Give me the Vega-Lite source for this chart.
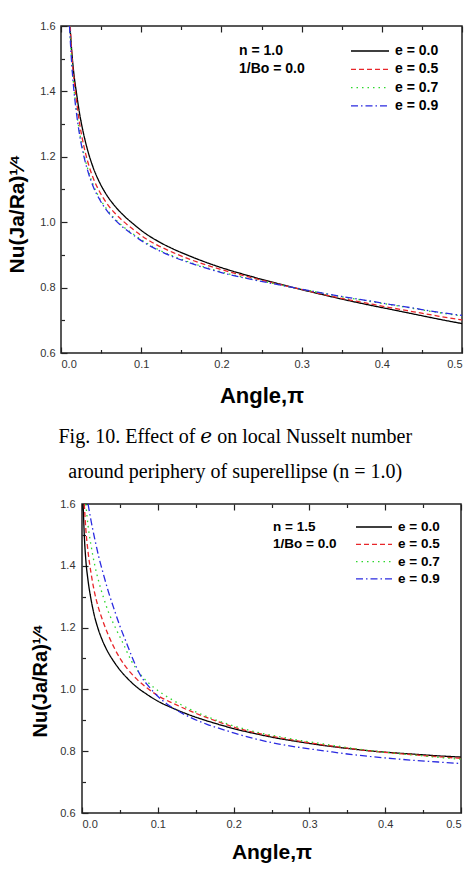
{
  "$schema": "https://vega.github.io/schema/vega-lite/v6.json",
  "background": "white",
  "padding": {"left": 5, "top": 19, "right": 0, "bottom": 0},
  "config": {
    "view": {"stroke": "#222", "strokeWidth": 1.5},
    "axis": {
      "domain": false, "grid": false,
      "tickColor": "#222", "tickWidth": 1.2,
      "labelFont": "Liberation Sans", "labelFontSize": 11, "labelColor": "#333",
      "titleFont": "Liberation Sans", "titleFontWeight": "bold", "titleColor": "#000"
    },
    "legend": {
      "titleFont": "Liberation Sans", "titleFontWeight": "bold", "titleColor": "#000",
      "labelFont": "Liberation Sans", "labelFontWeight": "bold", "labelColor": "#000",
      "titleOrient": "left", "titleAnchor": "start", "titleBaseline": "top",
      "symbolStrokeWidth": 1.3, "symbolSize": 144, "padding": 0
    }
  },
  "resolve": {
    "scale": {"color": "independent", "strokeDash": "independent"},
    "legend": {"color": "independent", "strokeDash": "independent"}
  },
  "datasets": {
    "n10": [
      {"e": "e = 0.0", "angle": 0.0112, "nu": 1.600}, {"e": "e = 0.0", "angle": 0.0135, "nu": 1.520},
      {"e": "e = 0.0", "angle": 0.016, "nu": 1.455}, {"e": "e = 0.0", "angle": 0.019, "nu": 1.400},
      {"e": "e = 0.0", "angle": 0.023, "nu": 1.335}, {"e": "e = 0.0", "angle": 0.028, "nu": 1.272},
      {"e": "e = 0.0", "angle": 0.033, "nu": 1.222}, {"e": "e = 0.0", "angle": 0.040, "nu": 1.168},
      {"e": "e = 0.0", "angle": 0.048, "nu": 1.122}, {"e": "e = 0.0", "angle": 0.057, "nu": 1.083},
      {"e": "e = 0.0", "angle": 0.067, "nu": 1.050}, {"e": "e = 0.0", "angle": 0.078, "nu": 1.021},
      {"e": "e = 0.0", "angle": 0.090, "nu": 0.995}, {"e": "e = 0.0", "angle": 0.105, "nu": 0.966},
      {"e": "e = 0.0", "angle": 0.120, "nu": 0.943}, {"e": "e = 0.0", "angle": 0.140, "nu": 0.918},
      {"e": "e = 0.0", "angle": 0.160, "nu": 0.897}, {"e": "e = 0.0", "angle": 0.180, "nu": 0.878},
      {"e": "e = 0.0", "angle": 0.200, "nu": 0.861}, {"e": "e = 0.0", "angle": 0.230, "nu": 0.839},
      {"e": "e = 0.0", "angle": 0.260, "nu": 0.819}, {"e": "e = 0.0", "angle": 0.290, "nu": 0.800},
      {"e": "e = 0.0", "angle": 0.320, "nu": 0.782}, {"e": "e = 0.0", "angle": 0.350, "nu": 0.765},
      {"e": "e = 0.0", "angle": 0.380, "nu": 0.749}, {"e": "e = 0.0", "angle": 0.410, "nu": 0.734},
      {"e": "e = 0.0", "angle": 0.440, "nu": 0.719}, {"e": "e = 0.0", "angle": 0.470, "nu": 0.704},
      {"e": "e = 0.0", "angle": 0.500, "nu": 0.690},

      {"e": "e = 0.5", "angle": 0.0115, "nu": 1.600}, {"e": "e = 0.5", "angle": 0.0135, "nu": 1.510},
      {"e": "e = 0.5", "angle": 0.016, "nu": 1.440}, {"e": "e = 0.5", "angle": 0.019, "nu": 1.378},
      {"e": "e = 0.5", "angle": 0.023, "nu": 1.305}, {"e": "e = 0.5", "angle": 0.028, "nu": 1.238},
      {"e": "e = 0.5", "angle": 0.033, "nu": 1.188}, {"e": "e = 0.5", "angle": 0.040, "nu": 1.136},
      {"e": "e = 0.5", "angle": 0.048, "nu": 1.094}, {"e": "e = 0.5", "angle": 0.057, "nu": 1.058},
      {"e": "e = 0.5", "angle": 0.067, "nu": 1.028}, {"e": "e = 0.5", "angle": 0.078, "nu": 1.002},
      {"e": "e = 0.5", "angle": 0.090, "nu": 0.978}, {"e": "e = 0.5", "angle": 0.105, "nu": 0.951},
      {"e": "e = 0.5", "angle": 0.120, "nu": 0.930}, {"e": "e = 0.5", "angle": 0.140, "nu": 0.907},
      {"e": "e = 0.5", "angle": 0.160, "nu": 0.887}, {"e": "e = 0.5", "angle": 0.180, "nu": 0.870},
      {"e": "e = 0.5", "angle": 0.200, "nu": 0.855}, {"e": "e = 0.5", "angle": 0.230, "nu": 0.835},
      {"e": "e = 0.5", "angle": 0.260, "nu": 0.817}, {"e": "e = 0.5", "angle": 0.290, "nu": 0.800},
      {"e": "e = 0.5", "angle": 0.320, "nu": 0.783}, {"e": "e = 0.5", "angle": 0.350, "nu": 0.767},
      {"e": "e = 0.5", "angle": 0.380, "nu": 0.753}, {"e": "e = 0.5", "angle": 0.410, "nu": 0.739},
      {"e": "e = 0.5", "angle": 0.440, "nu": 0.726}, {"e": "e = 0.5", "angle": 0.470, "nu": 0.713},
      {"e": "e = 0.5", "angle": 0.500, "nu": 0.701},

      {"e": "e = 0.7", "angle": 0.0108, "nu": 1.600}, {"e": "e = 0.7", "angle": 0.0135, "nu": 1.488},
      {"e": "e = 0.7", "angle": 0.016, "nu": 1.413}, {"e": "e = 0.7", "angle": 0.019, "nu": 1.347},
      {"e": "e = 0.7", "angle": 0.023, "nu": 1.277}, {"e": "e = 0.7", "angle": 0.028, "nu": 1.214},
      {"e": "e = 0.7", "angle": 0.033, "nu": 1.166}, {"e": "e = 0.7", "angle": 0.040, "nu": 1.115},
      {"e": "e = 0.7", "angle": 0.048, "nu": 1.074}, {"e": "e = 0.7", "angle": 0.057, "nu": 1.040},
      {"e": "e = 0.7", "angle": 0.067, "nu": 1.011}, {"e": "e = 0.7", "angle": 0.078, "nu": 0.986},
      {"e": "e = 0.7", "angle": 0.090, "nu": 0.964}, {"e": "e = 0.7", "angle": 0.105, "nu": 0.939},
      {"e": "e = 0.7", "angle": 0.120, "nu": 0.918}, {"e": "e = 0.7", "angle": 0.140, "nu": 0.896},
      {"e": "e = 0.7", "angle": 0.160, "nu": 0.878}, {"e": "e = 0.7", "angle": 0.180, "nu": 0.862},
      {"e": "e = 0.7", "angle": 0.200, "nu": 0.848}, {"e": "e = 0.7", "angle": 0.230, "nu": 0.830},
      {"e": "e = 0.7", "angle": 0.260, "nu": 0.815}, {"e": "e = 0.7", "angle": 0.290, "nu": 0.800},
      {"e": "e = 0.7", "angle": 0.320, "nu": 0.786}, {"e": "e = 0.7", "angle": 0.350, "nu": 0.772},
      {"e": "e = 0.7", "angle": 0.380, "nu": 0.760}, {"e": "e = 0.7", "angle": 0.410, "nu": 0.748},
      {"e": "e = 0.7", "angle": 0.440, "nu": 0.736}, {"e": "e = 0.7", "angle": 0.470, "nu": 0.724},
      {"e": "e = 0.7", "angle": 0.500, "nu": 0.713},

      {"e": "e = 0.9", "angle": 0.0106, "nu": 1.600}, {"e": "e = 0.9", "angle": 0.0135, "nu": 1.480},
      {"e": "e = 0.9", "angle": 0.016, "nu": 1.405}, {"e": "e = 0.9", "angle": 0.019, "nu": 1.340},
      {"e": "e = 0.9", "angle": 0.023, "nu": 1.270}, {"e": "e = 0.9", "angle": 0.028, "nu": 1.207},
      {"e": "e = 0.9", "angle": 0.033, "nu": 1.160}, {"e": "e = 0.9", "angle": 0.040, "nu": 1.110},
      {"e": "e = 0.9", "angle": 0.048, "nu": 1.070}, {"e": "e = 0.9", "angle": 0.057, "nu": 1.036},
      {"e": "e = 0.9", "angle": 0.067, "nu": 1.008}, {"e": "e = 0.9", "angle": 0.078, "nu": 0.983},
      {"e": "e = 0.9", "angle": 0.090, "nu": 0.961}, {"e": "e = 0.9", "angle": 0.105, "nu": 0.936},
      {"e": "e = 0.9", "angle": 0.120, "nu": 0.916}, {"e": "e = 0.9", "angle": 0.140, "nu": 0.894},
      {"e": "e = 0.9", "angle": 0.160, "nu": 0.876}, {"e": "e = 0.9", "angle": 0.180, "nu": 0.860},
      {"e": "e = 0.9", "angle": 0.200, "nu": 0.846}, {"e": "e = 0.9", "angle": 0.230, "nu": 0.829},
      {"e": "e = 0.9", "angle": 0.260, "nu": 0.814}, {"e": "e = 0.9", "angle": 0.290, "nu": 0.800},
      {"e": "e = 0.9", "angle": 0.320, "nu": 0.786}, {"e": "e = 0.9", "angle": 0.350, "nu": 0.773},
      {"e": "e = 0.9", "angle": 0.380, "nu": 0.761}, {"e": "e = 0.9", "angle": 0.410, "nu": 0.749},
      {"e": "e = 0.9", "angle": 0.440, "nu": 0.737}, {"e": "e = 0.9", "angle": 0.470, "nu": 0.725},
      {"e": "e = 0.9", "angle": 0.500, "nu": 0.715}
    ],
    "n15": [
      {"e": "e = 0.0", "angle": 0.0015, "nu": 1.600}, {"e": "e = 0.0", "angle": 0.003, "nu": 1.500},
      {"e": "e = 0.0", "angle": 0.005, "nu": 1.420}, {"e": "e = 0.0", "angle": 0.008, "nu": 1.352},
      {"e": "e = 0.0", "angle": 0.012, "nu": 1.290}, {"e": "e = 0.0", "angle": 0.016, "nu": 1.242},
      {"e": "e = 0.0", "angle": 0.021, "nu": 1.198}, {"e": "e = 0.0", "angle": 0.027, "nu": 1.158},
      {"e": "e = 0.0", "angle": 0.034, "nu": 1.122}, {"e": "e = 0.0", "angle": 0.042, "nu": 1.090},
      {"e": "e = 0.0", "angle": 0.051, "nu": 1.060}, {"e": "e = 0.0", "angle": 0.061, "nu": 1.033},
      {"e": "e = 0.0", "angle": 0.072, "nu": 1.008}, {"e": "e = 0.0", "angle": 0.085, "nu": 0.985},
      {"e": "e = 0.0", "angle": 0.100, "nu": 0.962}, {"e": "e = 0.0", "angle": 0.120, "nu": 0.939},
      {"e": "e = 0.0", "angle": 0.140, "nu": 0.919}, {"e": "e = 0.0", "angle": 0.160, "nu": 0.902},
      {"e": "e = 0.0", "angle": 0.180, "nu": 0.887}, {"e": "e = 0.0", "angle": 0.200, "nu": 0.873},
      {"e": "e = 0.0", "angle": 0.230, "nu": 0.856}, {"e": "e = 0.0", "angle": 0.260, "nu": 0.841},
      {"e": "e = 0.0", "angle": 0.290, "nu": 0.829}, {"e": "e = 0.0", "angle": 0.320, "nu": 0.818},
      {"e": "e = 0.0", "angle": 0.350, "nu": 0.809}, {"e": "e = 0.0", "angle": 0.380, "nu": 0.801},
      {"e": "e = 0.0", "angle": 0.410, "nu": 0.795}, {"e": "e = 0.0", "angle": 0.440, "nu": 0.790},
      {"e": "e = 0.0", "angle": 0.470, "nu": 0.785}, {"e": "e = 0.0", "angle": 0.500, "nu": 0.781},

      {"e": "e = 0.5", "angle": 0.003, "nu": 1.600}, {"e": "e = 0.5", "angle": 0.005, "nu": 1.520},
      {"e": "e = 0.5", "angle": 0.008, "nu": 1.445}, {"e": "e = 0.5", "angle": 0.012, "nu": 1.375},
      {"e": "e = 0.5", "angle": 0.016, "nu": 1.320}, {"e": "e = 0.5", "angle": 0.021, "nu": 1.270},
      {"e": "e = 0.5", "angle": 0.027, "nu": 1.225}, {"e": "e = 0.5", "angle": 0.034, "nu": 1.180},
      {"e": "e = 0.5", "angle": 0.042, "nu": 1.137}, {"e": "e = 0.5", "angle": 0.051, "nu": 1.097},
      {"e": "e = 0.5", "angle": 0.061, "nu": 1.063}, {"e": "e = 0.5", "angle": 0.072, "nu": 1.034},
      {"e": "e = 0.5", "angle": 0.085, "nu": 1.006}, {"e": "e = 0.5", "angle": 0.100, "nu": 0.980},
      {"e": "e = 0.5", "angle": 0.120, "nu": 0.955}, {"e": "e = 0.5", "angle": 0.140, "nu": 0.933},
      {"e": "e = 0.5", "angle": 0.160, "nu": 0.913}, {"e": "e = 0.5", "angle": 0.180, "nu": 0.895},
      {"e": "e = 0.5", "angle": 0.200, "nu": 0.878}, {"e": "e = 0.5", "angle": 0.230, "nu": 0.859},
      {"e": "e = 0.5", "angle": 0.260, "nu": 0.844}, {"e": "e = 0.5", "angle": 0.290, "nu": 0.831},
      {"e": "e = 0.5", "angle": 0.320, "nu": 0.820}, {"e": "e = 0.5", "angle": 0.350, "nu": 0.810},
      {"e": "e = 0.5", "angle": 0.380, "nu": 0.801}, {"e": "e = 0.5", "angle": 0.410, "nu": 0.794},
      {"e": "e = 0.5", "angle": 0.440, "nu": 0.788}, {"e": "e = 0.5", "angle": 0.470, "nu": 0.782},
      {"e": "e = 0.5", "angle": 0.500, "nu": 0.777},

      {"e": "e = 0.7", "angle": 0.005, "nu": 1.600}, {"e": "e = 0.7", "angle": 0.008, "nu": 1.530},
      {"e": "e = 0.7", "angle": 0.012, "nu": 1.465}, {"e": "e = 0.7", "angle": 0.017, "nu": 1.400},
      {"e": "e = 0.7", "angle": 0.022, "nu": 1.350}, {"e": "e = 0.7", "angle": 0.028, "nu": 1.300},
      {"e": "e = 0.7", "angle": 0.035, "nu": 1.250}, {"e": "e = 0.7", "angle": 0.044, "nu": 1.200},
      {"e": "e = 0.7", "angle": 0.054, "nu": 1.150}, {"e": "e = 0.7", "angle": 0.065, "nu": 1.093},
      {"e": "e = 0.7", "angle": 0.078, "nu": 1.046}, {"e": "e = 0.7", "angle": 0.092, "nu": 1.012},
      {"e": "e = 0.7", "angle": 0.108, "nu": 0.983}, {"e": "e = 0.7", "angle": 0.125, "nu": 0.958},
      {"e": "e = 0.7", "angle": 0.145, "nu": 0.933}, {"e": "e = 0.7", "angle": 0.165, "nu": 0.912},
      {"e": "e = 0.7", "angle": 0.185, "nu": 0.894}, {"e": "e = 0.7", "angle": 0.200, "nu": 0.882},
      {"e": "e = 0.7", "angle": 0.230, "nu": 0.862}, {"e": "e = 0.7", "angle": 0.260, "nu": 0.847},
      {"e": "e = 0.7", "angle": 0.290, "nu": 0.834}, {"e": "e = 0.7", "angle": 0.320, "nu": 0.823},
      {"e": "e = 0.7", "angle": 0.350, "nu": 0.812}, {"e": "e = 0.7", "angle": 0.380, "nu": 0.802},
      {"e": "e = 0.7", "angle": 0.410, "nu": 0.794}, {"e": "e = 0.7", "angle": 0.440, "nu": 0.787},
      {"e": "e = 0.7", "angle": 0.470, "nu": 0.780}, {"e": "e = 0.7", "angle": 0.500, "nu": 0.774},

      {"e": "e = 0.9", "angle": 0.008, "nu": 1.600}, {"e": "e = 0.9", "angle": 0.012, "nu": 1.545},
      {"e": "e = 0.9", "angle": 0.017, "nu": 1.485}, {"e": "e = 0.9", "angle": 0.022, "nu": 1.430},
      {"e": "e = 0.9", "angle": 0.028, "nu": 1.375}, {"e": "e = 0.9", "angle": 0.035, "nu": 1.315},
      {"e": "e = 0.9", "angle": 0.043, "nu": 1.255}, {"e": "e = 0.9", "angle": 0.050, "nu": 1.205},
      {"e": "e = 0.9", "angle": 0.058, "nu": 1.155}, {"e": "e = 0.9", "angle": 0.066, "nu": 1.105},
      {"e": "e = 0.9", "angle": 0.077, "nu": 1.046}, {"e": "e = 0.9", "angle": 0.088, "nu": 1.010},
      {"e": "e = 0.9", "angle": 0.0985, "nu": 0.981}, {"e": "e = 0.9", "angle": 0.112, "nu": 0.953},
      {"e": "e = 0.9", "angle": 0.129, "nu": 0.927}, {"e": "e = 0.9", "angle": 0.145, "nu": 0.907},
      {"e": "e = 0.9", "angle": 0.165, "nu": 0.887}, {"e": "e = 0.9", "angle": 0.185, "nu": 0.871},
      {"e": "e = 0.9", "angle": 0.200, "nu": 0.859}, {"e": "e = 0.9", "angle": 0.230, "nu": 0.839},
      {"e": "e = 0.9", "angle": 0.260, "nu": 0.823}, {"e": "e = 0.9", "angle": 0.290, "nu": 0.811},
      {"e": "e = 0.9", "angle": 0.320, "nu": 0.801}, {"e": "e = 0.9", "angle": 0.350, "nu": 0.791},
      {"e": "e = 0.9", "angle": 0.380, "nu": 0.783}, {"e": "e = 0.9", "angle": 0.410, "nu": 0.776},
      {"e": "e = 0.9", "angle": 0.440, "nu": 0.770}, {"e": "e = 0.9", "angle": 0.470, "nu": 0.765},
      {"e": "e = 0.9", "angle": 0.500, "nu": 0.760}
    ]
  },
  "vconcat": [
    {
      "width": 401,
      "height": 327,
      "title": {
        "text": ["Fig. 10. Effect of 𝑒 on local Nusselt number", "around periphery of superellipse (n = 1.0)"],
        "orient": "bottom", "anchor": "middle", "frame": "bounds",
        "font": "Liberation Serif, DejaVu Serif, serif", "fontSize": 20, "fontWeight": "normal", "color": "#000",
        "lineHeight": 35, "offset": 21, "baseline": "top"
      },
      "layer": [
        {
          "data": {"name": "n10"},
          "mark": {"type": "line", "interpolate": "monotone", "strokeWidth": 1.3},
          "encoding": {
            "x": {
              "field": "angle", "type": "quantitative",
              "scale": {"domain": [0, 0.5], "nice": false, "zero": false},
              "axis": {
                "orient": "bottom", "values": [0, 0.1, 0.2, 0.3, 0.4, 0.5], "format": ".1f",
                "tickSize": -6, "labelPadding": 11,
                "title": "Angle,π", "titleFontSize": 22, "titlePadding": 16
              }
            },
            "y": {
              "field": "nu", "type": "quantitative",
              "scale": {"domain": [0.6, 1.6], "nice": false, "zero": false},
              "axis": {
                "orient": "left", "values": [0.6, 0.8, 1.0, 1.2, 1.4, 1.6], "format": ".1f",
                "tickSize": -6, "labelPadding": 12,
                "title": "Nu(Ja/Ra)¹⁄⁴", "titleFontSize": 21,
                "titleAngle": 270, "titleAlign": "left", "titleBaseline": "alphabetic",
                "titleX": -38, "titleY": 247
              }
            },
            "color": {
              "field": "e", "type": "nominal",
              "scale": {"domain": ["e = 0.0", "e = 0.5", "e = 0.7", "e = 0.9"], "range": ["#000000", "#e8262a", "#2ed82e", "#2a2ae0"]},
              "legend": {
                "orient": "none", "legendX": 178, "legendY": 18,
                "title": ["n = 1.0", "1/Bo = 0.0"],
                "titleFontSize": 14, "titleLineHeight": 18, "titlePadding": 58,
                "labelFontSize": 14, "labelOffset": 18,
                "symbolType": "M-3.1667,0H3.1667", "rowPadding": 4.3
              }
            },
            "strokeDash": {
              "field": "e", "type": "nominal",
              "scale": {"domain": ["e = 0.0", "e = 0.5", "e = 0.7", "e = 0.9"], "range": [[1, 0], [5, 3], [1.5, 4], [7, 3, 1.5, 3]]}
            }
          }
        },
        {
          "data": {"values": []},
          "mark": "line",
          "encoding": {
            "x": {"field": "angle", "type": "quantitative", "axis": {"orient": "bottom", "values": [0.05, 0.15, 0.25, 0.35, 0.45], "tickSize": -3.5, "labels": false, "title": null}},
            "y": {"field": "nu", "type": "quantitative", "axis": {"orient": "left", "values": [0.7, 0.9, 1.1, 1.3, 1.5], "tickSize": -3.5, "labels": false, "title": null}}
          }
        },
        {
          "data": {"values": []},
          "mark": "line",
          "encoding": {
            "x": {"field": "angle", "type": "quantitative", "axis": {"orient": "top", "values": [0, 0.1, 0.2, 0.3, 0.4, 0.5], "tickSize": -6, "labels": false, "title": null}},
            "y": {"field": "nu", "type": "quantitative", "axis": null}
          }
        },
        {
          "data": {"values": []},
          "mark": "line",
          "encoding": {
            "x": {"field": "angle", "type": "quantitative", "axis": {"orient": "top", "values": [0.05, 0.15, 0.25, 0.35, 0.45], "tickSize": -3.5, "labels": false, "title": null}},
            "y": {"field": "nu", "type": "quantitative", "axis": null}
          }
        }
      ],
      "resolve": {"axis": {"x": "independent", "y": "independent"}}
    },
    {
      "hconcat": [
        {
          "width": 1, "height": 1,
          "view": {"stroke": null},
          "data": {"values": []},
          "mark": "rule",
          "encoding": {}
        },
        {
          "width": 379,
          "height": 309,
          "layer": [
            {
              "data": {"name": "n15"},
              "mark": {"type": "line", "interpolate": "monotone", "strokeWidth": 1.3},
              "encoding": {
                "x": {
                  "field": "angle", "type": "quantitative",
                  "scale": {"domain": [0, 0.5], "nice": false, "zero": false},
                  "axis": {
                    "orient": "bottom", "values": [0, 0.1, 0.2, 0.3, 0.4, 0.5], "format": ".1f",
                    "tickSize": -6, "labelPadding": 11,
                    "title": "Angle,π", "titleFontSize": 21, "titlePadding": 12
                  }
                },
                "y": {
                  "field": "nu", "type": "quantitative",
                  "scale": {"domain": [0.6, 1.6], "nice": false, "zero": false},
                  "axis": {
                    "orient": "left", "values": [0.6, 0.8, 1.0, 1.2, 1.4, 1.6], "format": ".1f",
                    "tickSize": -6, "labelPadding": 13,
                    "title": "Nu(Ja/Ra)¹⁄⁴", "titleFontSize": 20,
                    "titleAngle": 270, "titleAlign": "left", "titleBaseline": "alphabetic",
                    "titleX": -36, "titleY": 233
                  }
                },
                "color": {
                  "field": "e", "type": "nominal",
                  "scale": {"domain": ["e = 0.0", "e = 0.5", "e = 0.7", "e = 0.9"], "range": ["#000000", "#e8262a", "#2ed82e", "#2a2ae0"]},
                  "legend": {
                    "orient": "none", "legendX": 191, "legendY": 16,
                    "title": ["n = 1.5", "1/Bo = 0.0"],
                    "titleFontSize": 13.5, "titleLineHeight": 17, "titlePadding": 30,
                    "labelFontSize": 13.5, "labelOffset": 17,
                    "symbolType": "M-3,0H3", "rowPadding": 3.3
                  }
                },
                "strokeDash": {
                  "field": "e", "type": "nominal",
                  "scale": {"domain": ["e = 0.0", "e = 0.5", "e = 0.7", "e = 0.9"], "range": [[1, 0], [5, 3], [1.5, 4], [7, 3, 1.5, 3]]}
                }
              }
            },
            {
              "data": {"values": []},
              "mark": "line",
              "encoding": {
                "x": {"field": "angle", "type": "quantitative", "axis": {"orient": "bottom", "values": [0.05, 0.15, 0.25, 0.35, 0.45], "tickSize": -3.5, "labels": false, "title": null}},
                "y": {"field": "nu", "type": "quantitative", "axis": {"orient": "left", "values": [0.7, 0.9, 1.1, 1.3, 1.5], "tickSize": -3.5, "labels": false, "title": null}}
              }
            },
            {
              "data": {"values": []},
              "mark": "line",
              "encoding": {
                "x": {"field": "angle", "type": "quantitative", "axis": {"orient": "top", "values": [0, 0.1, 0.2, 0.3, 0.4, 0.5], "tickSize": -6, "labels": false, "title": null}},
                "y": {"field": "nu", "type": "quantitative", "axis": null}
              }
            },
            {
              "data": {"values": []},
              "mark": "line",
              "encoding": {
                "x": {"field": "angle", "type": "quantitative", "axis": {"orient": "top", "values": [0.05, 0.15, 0.25, 0.35, 0.45], "tickSize": -3.5, "labels": false, "title": null}},
                "y": {"field": "nu", "type": "quantitative", "axis": null}
              }
            }
          ],
          "resolve": {"axis": {"x": "independent", "y": "independent"}}
        }
      ],
      "resolve": {
        "scale": {"color": "independent", "strokeDash": "independent"},
        "legend": {"color": "independent", "strokeDash": "independent"}
      },
      "bounds": "flush",
      "spacing": 20
    }
  ],
  "spacing": 14
}
